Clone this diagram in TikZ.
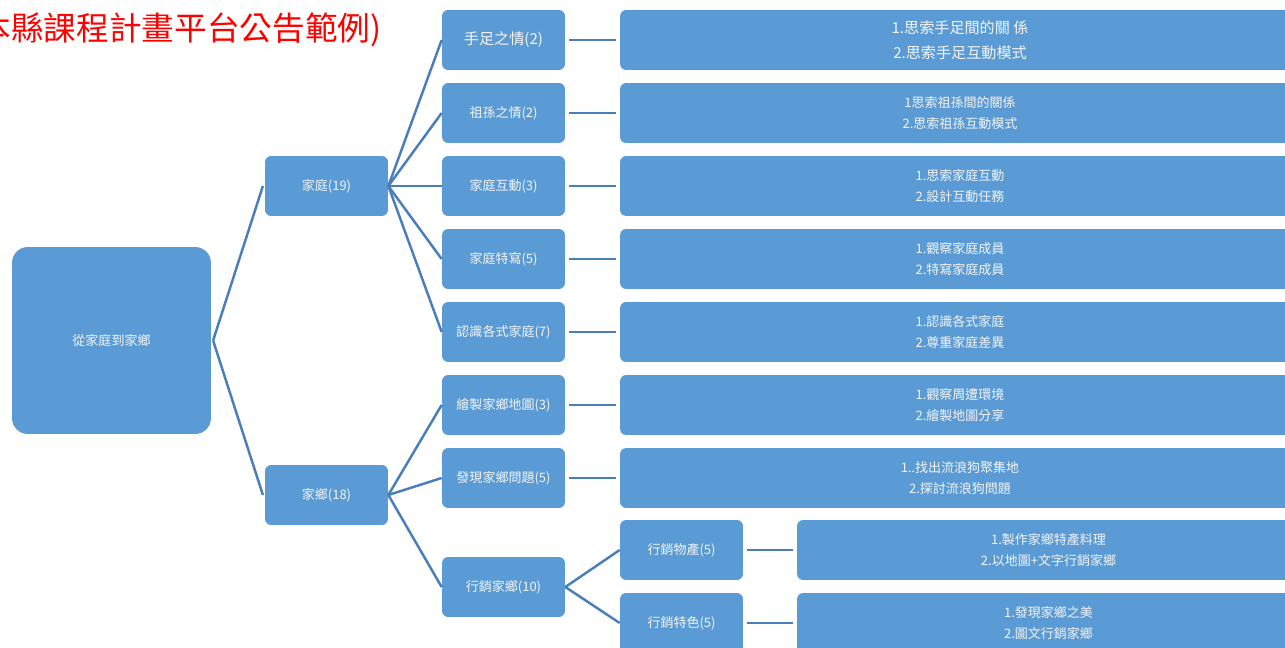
\documentclass[tikz,border=0pt]{standalone}
\usepackage{fontspec}
\setmainfont{Noto Sans CJK TC}
\usetikzlibrary{positioning}

\definecolor{boxblue}{HTML}{5B9BD5}
\definecolor{lineblue}{HTML}{4A7EBB}
\definecolor{boxtext}{HTML}{F4F4F4}

\tikzset{
  topic/.style={fill=boxblue, rounded corners=3.5pt, inner sep=0pt, text=boxtext,
    minimum width=2.46cm, minimum height=1.2cm, font=\fontsize{7.4}{9}\selectfont},
  detail/.style={topic, minimum width=13.6cm, align=center, font=\fontsize{7.4}{12.4}\selectfont},
  link/.style={draw=lineblue, line width=1.4pt}
}

\begin{document}
\begin{tikzpicture}[x=0.02cm, y=-0.02cm]

\useasboundingbox (0,0) rectangle (1285,648);

% title, cut on the left
\node[anchor=east, text=red, inner sep=0pt, font=\fontsize{18.6}{20}\selectfont] (title) at (382,30) {本縣課程計畫平台公告範例)};

% root and first level
\node[topic, minimum width=3.98cm, minimum height=3.74cm, rounded corners=9pt] (root) at (111.5,340.5) {從家庭到家鄉};
\node[topic] (fam) at (326.5,186) {家庭(19)};
\node[topic] (home) at (326.5,495) {家鄉(18)};

% family branch
\node[topic, font=\fontsize{8.6}{10}\selectfont] (fam-a) at (503.5,40) {手足之情(2)};
\node[topic] (fam-b) at (503.5,113) {祖孫之情(2)};
\node[topic] (fam-c) at (503.5,186) {家庭互動(3)};
\node[topic] (fam-d) at (503.5,259) {家庭特寫(5)};
\node[topic] (fam-e) at (503.5,332) {認識各式家庭(7)};

\node[detail, font=\fontsize{8.6}{14}\selectfont] (fam-a-det) at (960,40) {1.思索手足間的關 係\\2.思索手足互動模式};
\node[detail] (fam-b-det) at (960,113) {1思索祖孫間的關係\\2.思索祖孫互動模式};
\node[detail] (fam-c-det) at (960,186) {1.思索家庭互動\\2.設計互動任務};
\node[detail] (fam-d-det) at (960,259) {1.觀察家庭成員\\2.特寫家庭成員};
\node[detail] (fam-e-det) at (960,332) {1.認識各式家庭\\2.尊重家庭差異};

% home branch
\node[topic] (home-a) at (503.5,405) {繪製家鄉地圖(3)};
\node[topic] (home-b) at (503.5,478) {發現家鄉問題(5)};
\node[topic] (home-c) at (503.5,587) {行銷家鄉(10)};

\node[detail] (home-a-det) at (960,405) {1.觀察周遭環境\\2.繪製地圖分享};
\node[detail] (home-b-det) at (960,478) {1..找出流浪狗聚集地\\2.探討流浪狗問題};

\node[topic] (sell-a) at (681.5,550) {行銷物產(5)};
\node[topic] (sell-b) at (681.5,623) {行銷特色(5)};

\node[detail, minimum width=10.06cm] (sell-a-det) at (1048.5,550) {1.製作家鄉特產料理\\2.以地圖+文字行銷家鄉};
\node[detail, minimum width=10.06cm] (sell-b-det) at (1048.5,623) {1.發現家鄉之美\\2.圖文行銷家鄉};

% connectors
\draw[link] ([xshift=1pt]root.east) -- ([xshift=-1pt]fam.west);
\draw[link] ([xshift=1pt]root.east) -- ([xshift=-1pt]home.west);

\foreach \k in {a,b,c,d,e}
  \draw[link] (fam.east) -- (fam-\k.west);
\foreach \k in {a,b,c}
  \draw[link] (home.east) -- (home-\k.west);

\foreach \k in {a,b,c,d,e}
  \draw[link] ([xshift=2pt]fam-\k.east) -- ([xshift=-2pt]fam-\k-det.west);
\foreach \k in {a,b}
  \draw[link] ([xshift=2pt]home-\k.east) -- ([xshift=-2pt]home-\k-det.west);

\draw[link] (home-c.east) -- (sell-a.west);
\draw[link] (home-c.east) -- (sell-b.west);
\draw[link] ([xshift=2pt]sell-a.east) -- ([xshift=-2pt]sell-a-det.west);
\draw[link] ([xshift=2pt]sell-b.east) -- ([xshift=-2pt]sell-b-det.west);

\end{tikzpicture}
\end{document}
